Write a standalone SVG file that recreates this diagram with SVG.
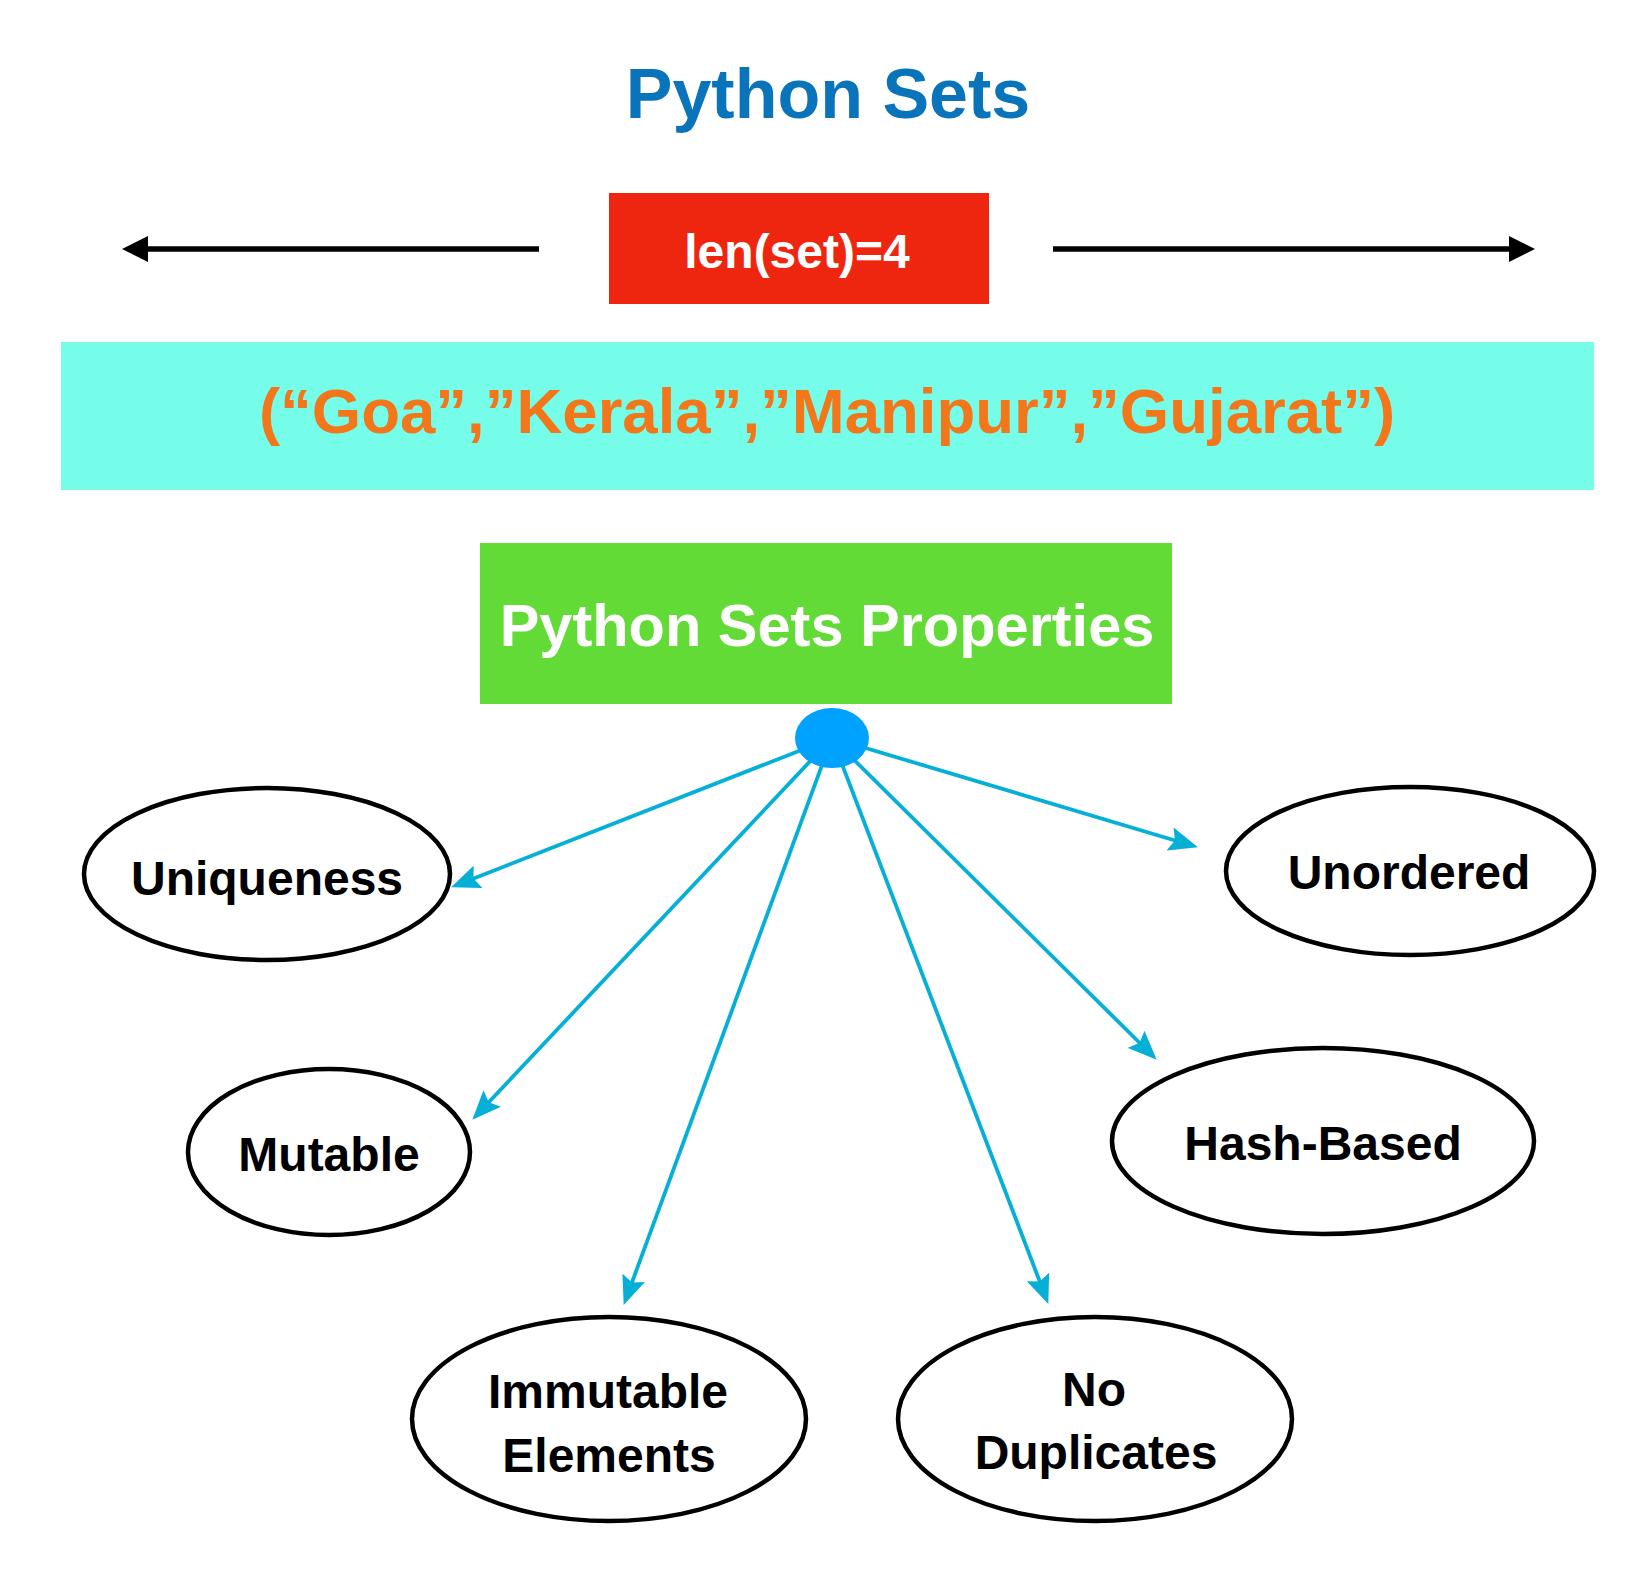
<svg xmlns="http://www.w3.org/2000/svg" width="1646" height="1572" viewBox="0 0 1646 1572">
<style>
text{font-family:"Liberation Sans",Arial,sans-serif;font-weight:bold;text-anchor:middle}
.lbl{font-size:48px;fill:#000}
.prop{fill:#fff;stroke:#000;stroke-width:4.5}
.conn{stroke:#05afd6;stroke-width:3.8;fill:none;marker-end:url(#ah)}
.blk{stroke:#000;stroke-width:5.5;fill:none}
</style>
<defs>
<marker id="ah" viewBox="0 0 29 24" refX="13" refY="12" markerWidth="29" markerHeight="24" markerUnits="userSpaceOnUse" orient="auto">
<path d="M0,0 L29,12 L0,24 L5,12 z" fill="#05afd6"/>
</marker>
<marker id="bh" viewBox="0 0 26 26" refX="4" refY="13" markerWidth="26" markerHeight="26" markerUnits="userSpaceOnUse" orient="auto">
<path d="M0,0 L26,13 L0,26 z" fill="#000"/>
</marker>
</defs>
<rect width="1646" height="1572" fill="#fff"/>
<g id="title"><text x="828" y="118" font-size="70" fill="#0a74ba">Python Sets</text></g>
<g id="len-box">
<rect x="609" y="193" width="380" height="111" fill="#ee2610"/>
<text x="797" y="268" font-size="48" fill="#fff">len(set)=4</text>
</g>
<g id="set-box">
<rect x="61" y="342" width="1533" height="148" fill="#75fde9"/>
<text x="827" y="433" font-size="63.5" fill="#f4761a">(“Goa”,”Kerala”,”Manipur”,”Gujarat”)</text>
</g>
<g id="props-box">
<rect x="480" y="543" width="692" height="161" fill="#62db37"/>
<text x="827" y="646" font-size="59.5" fill="#fff">Python Sets Properties</text>
</g>
<g id="connectors">
<line class="blk" x1="539" y1="249" x2="144" y2="249" marker-end="url(#bh)"/>
<line class="blk" x1="1053" y1="249" x2="1513" y2="249" marker-end="url(#bh)"/>
<line class="conn" x1="832" y1="738" x2="466" y2="881.5"/>
<line class="conn" x1="832" y1="738" x2="1182.6" y2="842.7"/>
<line class="conn" x1="832" y1="738" x2="483.3" y2="1108"/>
<line class="conn" x1="832" y1="738" x2="1145.3" y2="1048.5"/>
<line class="conn" x1="832" y1="738" x2="629.2" y2="1290"/>
<line class="conn" x1="832" y1="738" x2="1042.6" y2="1289"/>
</g>
<g id="hub"><ellipse cx="832" cy="738" rx="37" ry="30" fill="#00a2ff"/></g>
<g id="uniqueness"><ellipse class="prop" cx="267" cy="874" rx="183" ry="86"/><text class="lbl" x="267" y="895">Uniqueness</text></g>
<g id="unordered"><ellipse class="prop" cx="1410" cy="871" rx="184" ry="84"/><text class="lbl" x="1409" y="889">Unordered</text></g>
<g id="mutable"><ellipse class="prop" cx="329" cy="1152" rx="141" ry="83"/><text class="lbl" x="329" y="1171" font-size="49">Mutable</text></g>
<g id="hash-based"><ellipse class="prop" cx="1323" cy="1141" rx="211" ry="93"/><text class="lbl" x="1323" y="1160" font-size="49.5">Hash-Based</text></g>
<g id="immutable-elements"><ellipse class="prop" cx="609" cy="1419" rx="197" ry="102"/><text class="lbl" x="608" y="1408" font-size="48.5">Immutable</text><text class="lbl" x="609" y="1472">Elements</text></g>
<g id="no-duplicates"><ellipse class="prop" cx="1095" cy="1419" rx="197" ry="102"/><text class="lbl" x="1094" y="1406">No</text><text class="lbl" x="1096" y="1469">Duplicates</text></g>
</svg>
